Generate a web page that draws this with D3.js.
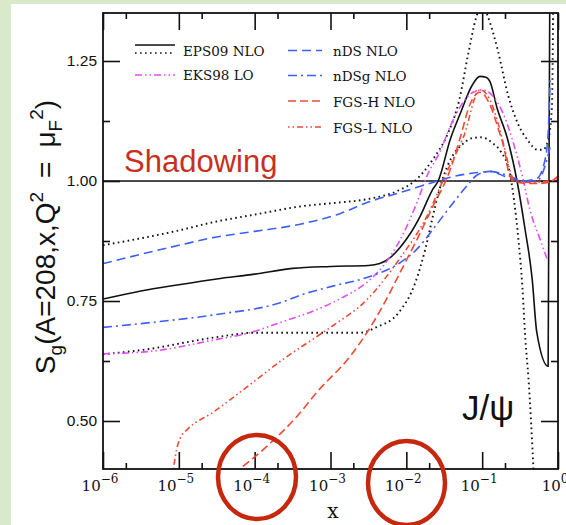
<!DOCTYPE html>
<html>
<head>
<meta charset="utf-8">
<script src="https://cdn.jsdelivr.net/npm/d3@7"></script>
<style>
  body { margin: 0; background: #d9eacb; }
</style>
</head>
<body>
<div id="chart"></div>
<script>
// curves: log10(x) positions and S_g values
const eps09LogX = [-6, -5.5, -5.0, -4.5, -4.0, -3.5, -3.0, -2.5, -2.35, -2.2, -2.08, -1.95, -1.82, -1.65, -1.58, -1.42, -1.29, -1.13, -1.03, -0.95, -0.9, -0.8, -0.67, -0.54, -0.435, -0.34, -0.28, -0.13, -0.105];
const eps09Val = [0.754, 0.771, 0.784, 0.796, 0.806, 0.818, 0.822, 0.824, 0.828, 0.842, 0.862, 0.89, 0.926, 0.983, 1.0, 1.087, 1.14, 1.2, 1.218, 1.216, 1.208, 1.15, 1.09, 1.0, 0.9, 0.795, 0.685, 0.614, 1.5];

const eps09UpLogX = [-6, -5.0, -4.55, -4.0, -3.4, -2.9, -2.52, -2.08, -1.89, -1.65, -1.45, -1.3, -1.19, -1.08, -1.0, -0.93, -0.79, -0.66, -0.53, -0.4, -0.27, -0.2, -0.13, -0.08, -0.06];
const eps09UpVal = [0.866, 0.897, 0.914, 0.93, 0.947, 0.955, 0.962, 0.982, 1.0, 1.045, 1.1, 1.17, 1.26, 1.34, 1.37, 1.345, 1.27, 1.18, 1.12, 1.085, 1.065, 1.065, 1.085, 1.155, 1.45];

const eps09LowLogX = [-6, -5.35, -4.9, -4.45, -4.0, -3.0, -2.6, -2.4, -2.1, -1.88, -1.75, -1.62, -1.53, -1.4, -1.27, -1.14, -1.01, -0.87, -0.75, -0.64, -0.58, -0.52, -0.47, -0.43, -0.39, -0.32];
const eps09LowVal = [0.639, 0.651, 0.664, 0.676, 0.684, 0.684, 0.684, 0.695, 0.726, 0.789, 0.858, 0.947, 1.0, 1.05, 1.075, 1.089, 1.091, 1.08, 1.06, 1.02, 0.96, 0.875, 0.78, 0.67, 0.59, 0.39];

const eks98LogX = [-6, -5.38, -4.5, -4.06, -3.63, -3.18, -2.87, -2.52, -2.31, -2.08, -1.86, -1.73, -1.56, -1.42, -1.25, -1.12, -0.99, -0.86, -0.73, -0.59, -0.47, -0.37, -0.24, -0.145];
const eks98Val = [0.64, 0.645, 0.67, 0.684, 0.707, 0.732, 0.755, 0.789, 0.822, 0.878, 0.955, 1.01, 1.06, 1.114, 1.164, 1.185, 1.19, 1.177, 1.143, 1.08, 1.01, 0.94, 0.88, 0.838];

const ndsLogX = [-6, -5.0, -4.55, -4.0, -3.4, -2.875, -2.52, -2.08, -1.65, -1.42, -1.03, -0.9, -0.67, -0.46, -0.28, -0.17, -0.13, -0.105];
const ndsVal = [0.828, 0.866, 0.882, 0.895, 0.91, 0.932, 0.955, 0.976, 0.997, 1.008, 1.018, 1.02, 1.008, 1.0, 1.005, 1.045, 1.1, 1.21];

const ndsgLogX = [-6, -5.38, -4.5, -3.63, -3.4, -2.97, -2.52, -2.08, -1.86, -1.65, -1.42, -1.2, -1.07, -0.9, -0.67, -0.46, -0.28, -0.145, -0.105];
const ndsgVal = [0.695, 0.705, 0.722, 0.748, 0.762, 0.781, 0.799, 0.83, 0.858, 0.899, 0.947, 0.99, 1.012, 1.02, 1.012, 1.0, 1.0, 1.045, 1.07];

const fgsHLogX = [-4.28, -3.84, -3.44, -3.18, -2.74, -2.52, -2.31, -2.08, -1.86, -1.65, -1.42, -1.29, -1.16, -1.03, -0.9, -0.79, -0.7, -0.66, -0.59, -0.41, -0.24, -0.105, 0];
const fgsHVal = [0.39, 0.447, 0.51, 0.56, 0.635, 0.684, 0.74, 0.81, 0.878, 0.947, 1.024, 1.09, 1.16, 1.185, 1.16, 1.11, 1.06, 1.024, 1.0, 0.995, 0.995, 0.998, 1.01];

const fgsLLogX = [-5.08, -5.03, -4.98, -4.89, -4.55, -4.06, -3.63, -3.18, -2.91, -2.57, -2.08, -1.73, -1.47, -1.25, -1.03, -0.9, -0.79, -0.7, -0.63, -0.57, -0.37, -0.105, 0];
const fgsLVal = [0.39, 0.44, 0.465, 0.482, 0.518, 0.576, 0.628, 0.676, 0.705, 0.745, 0.84, 0.926, 1.018, 1.09, 1.19, 1.17, 1.12, 1.065, 1.02, 1.0, 0.997, 1.0, 1.005];

// ticks
const xTickExps = [-6, -5, -4, -3, -2, -1, 0];
const yTickVals = [0.5, 0.75, 1.0, 1.25];
const yMinorVals = [0.625, 0.875, 1.125];

const width = 566, height = 525;
const plotLeft = 103, plotRight = 558, plotTop = 13, plotBottom = 469;

const blue = "#3f5ff2", red = "#f04a36", magenta = "#e04ff0", black = "#111";

// series: [name, logx, values, colour, dash]
const series = [
  ["EPS09 NLO", eps09LogX, eps09Val, black, null],
  ["EPS09 up", eps09UpLogX, eps09UpVal, black, "1.6,3.4"],
  ["EPS09 low", eps09LowLogX, eps09LowVal, black, "1.6,3.4"],
  ["EKS98 LO", eks98LogX, eks98Val, magenta, "7,3,1.5,3,1.5,3"],
  ["nDS NLO", ndsLogX, ndsVal, blue, "9,5"],
  ["nDSg NLO", ndsgLogX, ndsgVal, blue, "9,4,2,4"],
  ["FGS-H NLO", fgsHLogX, fgsHVal, red, "8,4"],
  ["FGS-L NLO", fgsLLogX, fgsLVal, red, "1.5,3,1.5,3,6,3"]
];

const svg = d3.select("#chart").append("svg")
  .attr("width", width)
  .attr("height", height)
  .style("display", "block");

svg.append("rect").attr("width", width).attr("height", height).attr("fill", "#d9eacb");
svg.append("rect").attr("x", 11).attr("y", 4).attr("width", width - 11).attr("height", height - 4).attr("fill", "#fff");

const x = d3.scaleLog().domain([1e-6, 1]).range([plotLeft, plotRight]);
const y = d3.scaleLinear().domain([0.4, 1.35]).range([plotBottom, plotTop]);

svg.append("clipPath").attr("id", "plotclip")
  .append("rect").attr("x", plotLeft).attr("y", plotTop)
  .attr("width", plotRight - plotLeft).attr("height", plotBottom - plotTop);

const majorX = xTickExps.map(e => Math.pow(10, e));
const minorX = xTickExps.slice(0, -1).map(e => 2 * Math.pow(10, e));

function styleAxis(g) {
  g.select(".domain").remove();
  g.selectAll(".tick line").attr("stroke", black).attr("stroke-width", 1.6);
}

// x ticks bottom and top
svg.append("g").attr("transform", `translate(0,${plotBottom})`)
  .call(d3.axisBottom(x).tickValues(majorX).tickSize(-17).tickFormat(""))
  .call(styleAxis);
svg.append("g").attr("transform", `translate(0,${plotBottom})`)
  .call(d3.axisBottom(x).tickValues(minorX).tickSize(-6).tickFormat(""))
  .call(styleAxis);
svg.append("g").attr("transform", `translate(0,${plotTop})`)
  .call(d3.axisTop(x).tickValues(majorX).tickSize(-17).tickFormat(""))
  .call(styleAxis);
svg.append("g").attr("transform", `translate(0,${plotTop})`)
  .call(d3.axisTop(x).tickValues(minorX).tickSize(-6).tickFormat(""))
  .call(styleAxis);

// y ticks left (with labels) and right
svg.append("g").attr("transform", `translate(${plotLeft},0)`)
  .call(d3.axisLeft(y).tickValues(yTickVals).tickSize(-17).tickPadding(6).tickFormat(d3.format(".2f")))
  .call(styleAxis)
  .call(g => g.selectAll("text")
    .attr("fill", black)
    .style("font-family", "'Liberation Sans', Arial, sans-serif")
    .style("font-size", "15.5px"));
svg.append("g").attr("transform", `translate(${plotLeft},0)`)
  .call(d3.axisLeft(y).tickValues(yMinorVals).tickSize(-7).tickFormat(""))
  .call(styleAxis);
svg.append("g").attr("transform", `translate(${plotRight},0)`)
  .call(d3.axisRight(y).tickValues(yTickVals).tickSize(-17).tickFormat(""))
  .call(styleAxis);
svg.append("g").attr("transform", `translate(${plotRight},0)`)
  .call(d3.axisRight(y).tickValues(yMinorVals).tickSize(-7).tickFormat(""))
  .call(styleAxis);

// x tick labels 10^n
const xlab = svg.append("g")
  .style("font-family", "'DejaVu Serif', serif")
  .attr("fill", black);
xTickExps.forEach(e => {
  const t = xlab.append("text")
    .attr("x", x(Math.pow(10, e)) - 3)
    .attr("y", 491)
    .attr("text-anchor", "middle");
  t.append("tspan").style("font-size", "15px").text("10");
  t.append("tspan").style("font-size", "12px").attr("dy", -8)
    .text(e === 0 ? "0" : "\u2212" + Math.abs(e));
});

// reference line at 1
svg.append("line")
  .attr("x1", plotLeft).attr("x2", plotRight)
  .attr("y1", y(1)).attr("y2", y(1))
  .attr("stroke", black).attr("stroke-width", 1.6);

// curves
const line = d3.line()
  .x(d => x(Math.pow(10, d[0])))
  .y(d => y(d[1]))
  .curve(d3.curveMonotoneX);

const curves = svg.append("g").attr("clip-path", "url(#plotclip)");
series.forEach(s => {
  const pts = s[1].map((lx, i) => [lx, s[2][i]]);
  curves.append("path")
    .datum(pts)
    .attr("d", line)
    .attr("fill", "none")
    .attr("stroke", s[3])
    .attr("stroke-width", s[4] && s[4].startsWith("1.6") ? 1.9 : 1.6)
    .attr("stroke-dasharray", s[4]);
});

// frame
svg.append("rect")
  .attr("x", plotLeft).attr("y", plotTop)
  .attr("width", plotRight - plotLeft).attr("height", plotBottom - plotTop)
  .attr("fill", "none").attr("stroke", black).attr("stroke-width", 1.8);

// legend
const legend = svg.append("g")
  .style("font-family", "'DejaVu Serif', serif")
  .style("font-size", "13.5px")
  .attr("fill", black);
const legItems = [
  { x0: 135, x1: 175, ys: [45, 53], idx: [0, 1], label: "EPS09 NLO", tx: 183, ty: 56 },
  { x0: 135, x1: 175, ys: [75], idx: [3], label: "EKS98 LO", tx: 183, ty: 80 },
  { x0: 288, x1: 322, ys: [50.5], idx: [4], label: "nDS NLO", tx: 333, ty: 56 },
  { x0: 288, x1: 322, ys: [75.5], idx: [5], label: "nDSg NLO", tx: 333, ty: 81 },
  { x0: 288, x1: 322, ys: [101], idx: [6], label: "FGS-H NLO", tx: 333, ty: 107 },
  { x0: 288, x1: 322, ys: [127], idx: [7], label: "FGS-L NLO", tx: 333, ty: 133 }
];
legItems.forEach(it => {
  it.ys.forEach((ly, k) => {
    const s = series[it.idx[k]];
    legend.append("line")
      .attr("x1", it.x0).attr("x2", it.x1)
      .attr("y1", ly).attr("y2", ly)
      .attr("stroke", s[3]).attr("stroke-width", 1.5)
      .attr("stroke-dasharray", s[4] || "none");
  });
  legend.append("text").attr("x", it.tx).attr("y", it.ty).text(it.label);
});

// annotations
svg.append("text")
  .attr("x", 124).attr("y", 172)
  .style("font-family", "'Liberation Sans', Arial, sans-serif")
  .style("font-size", "31px")
  .attr("fill", "#c8301e")
  .text("Shadowing");

svg.append("text")
  .attr("x", 462).attr("y", 420)
  .style("font-family", "'Liberation Sans', Arial, sans-serif")
  .style("font-size", "35px")
  .attr("fill", black)
  .text("J/\u03c8");

// axis titles
svg.append("text")
  .attr("x", 333).attr("y", 518)
  .attr("text-anchor", "middle")
  .style("font-family", "'DejaVu Serif', serif")
  .style("font-size", "20px")
  .attr("fill", black)
  .text("x");

const ylab = svg.append("text")
  .attr("transform", "translate(55,237) rotate(-90)")
  .attr("text-anchor", "middle")
  .style("font-family", "'Liberation Sans', Arial, sans-serif")
  .style("font-size", "28px")
  .attr("fill", black);
ylab.append("tspan").text("S");
ylab.append("tspan").style("font-size", "19px").attr("dy", 7).text("g");
ylab.append("tspan").attr("dy", -7).text("(A=208,x,Q");
ylab.append("tspan").style("font-size", "19px").attr("dy", -12).text("2");
ylab.append("tspan").attr("dy", 12).text("\u2002=\u2002\u03bc");
ylab.append("tspan").style("font-size", "19px").attr("dy", 7).text("F");
ylab.append("tspan").style("font-size", "19px").attr("dy", -19).text("2");
ylab.append("tspan").attr("dy", 12).text(")");

// red circles around the 10^-4 and 10^-2 labels
svg.append("ellipse")
  .attr("cx", 257).attr("cy", 477).attr("rx", 39).attr("ry", 42)
  .attr("fill", "none").attr("stroke", "#c6280e").attr("stroke-width", 4.5);
svg.append("ellipse")
  .attr("cx", 406.5).attr("cy", 483).attr("rx", 38.5).attr("ry", 42)
  .attr("fill", "none").attr("stroke", "#c6280e").attr("stroke-width", 4.5);
</script>
</body>
</html>
